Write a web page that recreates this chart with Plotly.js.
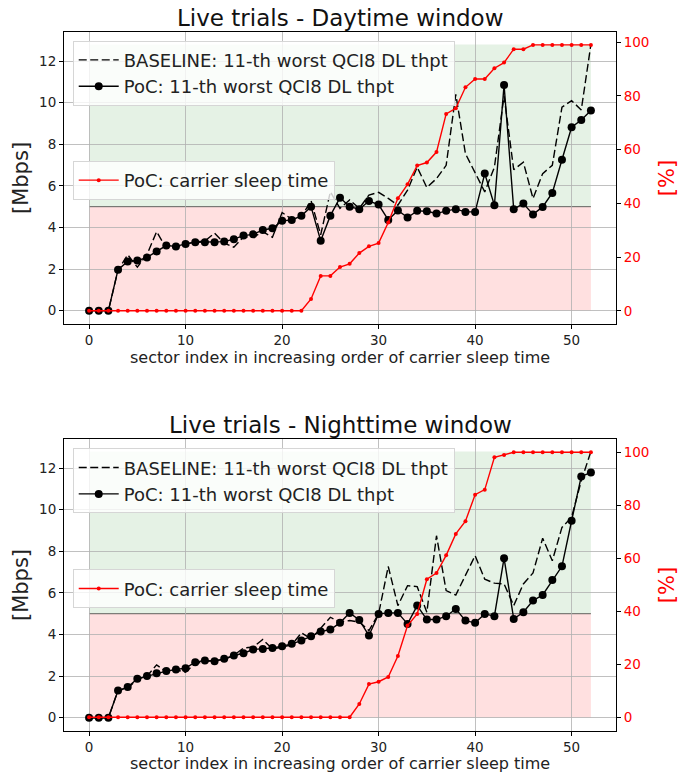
<!DOCTYPE html>
<html><head><meta charset="utf-8">
<script src="https://cdn.plot.ly/plotly-3.0.1.min.js"></script>
<style>html,body{margin:0;padding:0;background:#fff}</style>
</head><body>
<div id="chart" style="width:689px;height:774px"></div>
<script>
// ---------- data ----------
const sectorIndex = [0,1,2,3,4,5,6,7,8,9,10,11,12,13,14,15,16,17,18,19,20,21,22,23,24,25,26,
  27,28,29,30,31,32,33,34,35,36,37,38,39,40,41,42,43,44,45,46,47,48,49,50,51,52];

const dayBaseline = [0,0,0,1.95,2.69,2.09,2.7,3.8,3.0,3.05,3.2,3.3,3.35,3.73,3.25,3.05,3.55,3.53,
  3.8,3.53,4.72,4.4,4.5,5.29,3.65,5.72,4.92,5.32,4.92,5.56,5.69,5.4,5.07,5.8,6.9,5.92,6.35,6.99,
  10.4,7.55,6.59,5.71,6.9,10.33,6.78,7.14,5.39,6.59,6.99,9.78,10.1,9.65,12.8];
const dayPoc = [0,0,0,1.97,2.37,2.41,2.56,2.85,3.13,3.09,3.21,3.29,3.29,3.29,3.32,3.44,3.61,3.67,
  3.88,3.96,4.32,4.36,4.56,5.0,3.36,4.57,5.43,5.0,4.88,5.27,5.1,4.36,4.82,4.48,4.8,4.78,4.67,4.8,
  4.88,4.75,4.75,6.59,5.07,10.85,4.88,5.15,4.63,4.99,5.66,7.26,8.82,9.17,9.62];
const daySleep = [0,0,0,0,0,0,0,0,0,0,0,0,0,0,0,0,0,0,0,0,0,0,0,4.4,13.0,13.0,16.3,17.5,21.5,
  24.0,25.2,32.9,41.9,47.1,54.1,55.2,59.1,73.3,75.4,83.2,86.3,86.3,90.3,92.4,97.4,97.4,
  99,99,99,99,99,99,99];

const nightBaseline = [0,0,0,1.31,1.42,1.85,2.0,2.54,2.2,2.3,2.19,2.6,2.7,2.75,2.8,3.0,3.35,3.4,
  3.76,3.3,3.4,3.5,4.08,3.8,4.3,4.83,4.6,4.67,4.6,4.19,5.0,7.27,5.39,6.35,6.3,5.07,8.75,6.11,5.9,
  6.83,7.79,6.66,6.47,6.43,5.39,6.43,6.96,8.63,7.55,9.15,9.64,11.39,12.8];
const nightPoc = [0,0,0,1.31,1.47,1.87,2.0,2.14,2.24,2.32,2.38,2.67,2.75,2.72,2.83,2.99,3.1,3.28,
  3.3,3.35,3.44,3.55,3.71,3.92,4.14,4.24,4.56,5.04,4.7,3.95,4.99,5.04,5.04,4.51,5.39,4.72,4.72,
  4.88,5.23,4.67,4.56,4.99,4.88,7.67,4.75,5.07,5.63,5.9,6.62,7.28,9.47,11.6,11.79];
const nightSleep = [0,0,0,0,0,0,0,0,0,0,0,0,0,0,0,0,0,0,0,0,0,0,0,0,0,0,0,0,5.0,12.5,13.4,15.2,
  23.1,34.6,39.0,52.1,54.4,61.1,69.2,74.0,84.0,85.9,98.1,99.0,100,100,100,100,100,100,100,100,100];

const THRESHOLD = 5;
const nameBase = 'BASELINE: 11-th worst QCI8 DL thpt';
const namePoc = 'PoC: 11-th worst QCI8 DL thpt';
const nameSleep = 'PoC: carrier sleep time';
const titles = ['Live trials - Daytime window', 'Live trials - Nighttime window'];
const xTitle = 'sector index in increasing order of carrier sleep time';

// ---------- build ----------
const FONT = 'DejaVu Sans, sans-serif';
const domains = [[0.5823, 1], [0, 0.4177]];
const datasets = [[dayBaseline, dayPoc, daySleep], [nightBaseline, nightPoc, nightSleep]];
const traces = [], shapes = [], annotations = [];
const layout = {
  width: 689, height: 774,
  margin: {l: 64, r: 73, t: 32, b: 43},
  paper_bgcolor: 'white', plot_bgcolor: 'white',
  font: {family: FONT, color: 'black'},
  showlegend: true
};
const legendCommon = {xanchor: 'left', yanchor: 'top', bgcolor: 'rgba(255,255,255,0.8)',
  bordercolor: '#d6d6d6', borderwidth: 1, font: {family: FONT, size: 18, color: '#222'}, itemwidth: 40};
const legendPos = [[0.9876, 0.8155], [0.4044, 0.2313]];
const titleY = [1.02, 0.4378];
const xTitleY = [0.535, -0.0465];

datasets.forEach((ds, k) => {
  const [base, poc, sleep] = ds;
  const xa = k === 0 ? 'x' : 'x2';
  const ya = k === 0 ? 'y' : 'y3';
  const ya2 = k === 0 ? 'y2' : 'y4';
  const lgA = k === 0 ? 'legend' : 'legend3';
  const lgB = k === 0 ? 'legend2' : 'legend4';
  traces.push({x: sectorIndex, y: base, name: nameBase, xaxis: xa, yaxis: ya, legend: lgA,
    mode: 'lines', line: {color: 'black', width: 1.4, dash: '8px,3.5px'}});
  traces.push({x: sectorIndex, y: poc, name: namePoc, xaxis: xa, yaxis: ya, legend: lgA,
    mode: 'lines+markers', line: {color: 'black', width: 1.4}, marker: {color: 'black', size: 8}});
  traces.push({x: sectorIndex, y: sleep, name: nameSleep, xaxis: xa, yaxis: ya2, legend: lgB,
    mode: 'lines+markers', line: {color: '#ff0000', width: 1.4}, marker: {color: '#ff0000', size: 4}});

  const x0 = sectorIndex[0], x1 = sectorIndex[sectorIndex.length - 1];
  const top = Math.max(...base);
  shapes.push({type: 'rect', xref: xa, yref: ya, x0, x1, y0: THRESHOLD, y1: top,
    fillcolor: 'rgba(0,128,0,0.1)', line: {width: 0}, layer: 'below'});
  shapes.push({type: 'rect', xref: xa, yref: ya, x0, x1, y0: 0, y1: THRESHOLD,
    fillcolor: 'rgba(255,0,0,0.12)', line: {width: 0}, layer: 'below'});
  shapes.push({type: 'line', xref: xa, yref: ya, x0, x1, y0: THRESHOLD, y1: THRESHOLD,
    line: {color: 'rgba(0,0,0,0.6)', width: 1}, layer: 'below'});

  const axKey = k === 0 ? 'xaxis' : 'xaxis2';
  layout[axKey] = {domain: [0, 1], anchor: ya, range: [-2.6, 54.6], tickvals: [0, 10, 20, 30, 40, 50],
    showgrid: true, gridcolor: '#b0b0b0', gridwidth: 0.8, zeroline: false,
    showline: true, linecolor: 'black', linewidth: 1, mirror: true,
    ticks: 'outside', ticklen: 4, tickcolor: 'black', tickfont: {size: 13.5, color: '#222'},
    automargin: false};
  const yKey = k === 0 ? 'yaxis' : 'yaxis3';
  layout[yKey] = {domain: domains[k], anchor: xa, range: [-0.64, 13.4], tickvals: [0, 2, 4, 6, 8, 10, 12],
    showgrid: true, gridcolor: '#b0b0b0', gridwidth: 0.8, zeroline: false,
    showline: true, linecolor: 'black', linewidth: 1, mirror: true,
    ticks: 'outside', ticklen: 4, tickcolor: 'black', tickfont: {size: 13.5, color: '#222'},
    title: {text: '[Mbps]', font: {size: 21, color: '#222'}, standoff: 4}, automargin: false};
  const y2Key = k === 0 ? 'yaxis2' : 'yaxis4';
  layout[y2Key] = {overlaying: ya, side: 'right', anchor: xa, range: k === 0 ? [-4.9, 103.8] : [-5.2, 105],
    tickvals: [0, 20, 40, 60, 80, 100], showgrid: false, zeroline: false,
    showline: false, ticks: 'outside', ticklen: 4, tickcolor: 'black',
    tickfont: {size: 13.5, color: '#ff0000'},
    title: {text: '[%]', font: {size: 21, color: '#ff0000'}, standoff: 10}, automargin: false};

  layout[lgA] = Object.assign({}, legendCommon, {x: 0.0158, y: legendPos[k][0]});
  layout[lgB] = Object.assign({}, legendCommon, {x: 0.0158, y: legendPos[k][1]});

  annotations.push({text: titles[k], xref: 'paper', yref: 'paper', x: 0.5, y: titleY[k],
    xanchor: 'center', yanchor: 'middle', showarrow: false, font: {size: 23, color: '#111'}});
  annotations.push({text: xTitle, xref: 'paper', yref: 'paper', x: 0.5, y: xTitleY[k],
    xanchor: 'center', yanchor: 'middle', showarrow: false, font: {size: 16, color: '#222'}});
});
layout.shapes = shapes;
layout.annotations = annotations;

Plotly.newPlot('chart', traces, layout, {displayModeBar: false, staticPlot: true});
</script>
</body></html>
